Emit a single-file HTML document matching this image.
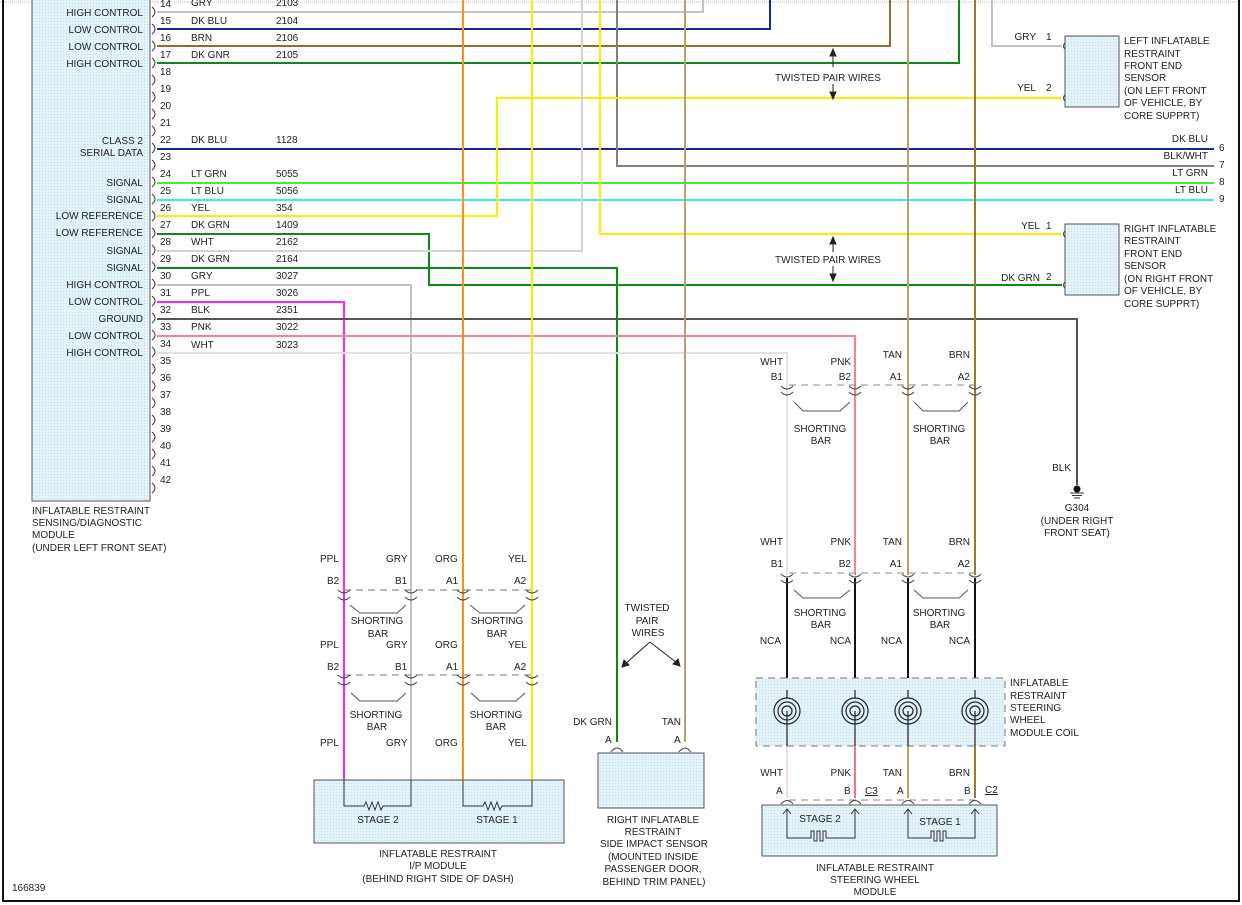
<!DOCTYPE html>
<html><head><meta charset="utf-8"><style>
html,body{margin:0;padding:0;background:#fff;}
svg{display:block;}
text{font-family:"Liberation Sans",sans-serif;font-size:10px;fill:#222;}
.r{text-anchor:end}.m{text-anchor:middle}
</style></head><body>
<svg width="1242" height="905" viewBox="0 0 1242 905" xmlns="http://www.w3.org/2000/svg">
<defs>
<pattern id="dots" width="3" height="3" patternUnits="userSpaceOnUse"><rect width="3" height="3" fill="#e4f2fa"/><rect width="1" height="1" fill="#c8dbe8"/></pattern>
</defs>
<rect width="1242" height="905" fill="#fff"/>
<!-- frame -->
<line x1="0" y1="2" x2="1239" y2="2" stroke="#bbb" stroke-dasharray="1,1"/>
<line x1="3" y1="0" x2="3" y2="901" stroke="#111" stroke-width="2"/>
<line x1="1239" y1="0" x2="1239" y2="901" stroke="#111" stroke-width="2"/>
<line x1="2" y1="901" x2="1240" y2="901" stroke="#111" stroke-width="2"/>
<text x="12" y="891">166839</text>

<!-- left module -->
<rect x="32" y="-2" width="118" height="503" fill="url(#dots)" stroke="#555"/>
<text x="32" y="514">INFLATABLE RESTRAINT</text>
<text x="32" y="526">SENSING/DIAGNOSTIC</text>
<text x="32" y="538">MODULE</text>
<text x="32" y="551">(UNDER LEFT FRONT SEAT)</text>
<g class="r">
<text class="r" x="143" y="16">HIGH CONTROL</text>
<text class="r" x="143" y="33">LOW CONTROL</text>
<text class="r" x="143" y="50">LOW CONTROL</text>
<text class="r" x="143" y="67">HIGH CONTROL</text>
<text class="r" x="143" y="144">CLASS 2</text>
<text class="r" x="143" y="156">SERIAL DATA</text>
<text class="r" x="143" y="186">SIGNAL</text>
<text class="r" x="143" y="203">SIGNAL</text>
<text class="r" x="143" y="219">LOW REFERENCE</text>
<text class="r" x="143" y="236">LOW REFERENCE</text>
<text class="r" x="143" y="254">SIGNAL</text>
<text class="r" x="143" y="271">SIGNAL</text>
<text class="r" x="143" y="288">HIGH CONTROL</text>
<text class="r" x="143" y="305">LOW CONTROL</text>
<text class="r" x="143" y="322">GROUND</text>
<text class="r" x="143" y="339">LOW CONTROL</text>
<text class="r" x="143" y="356">HIGH CONTROL</text>
</g>
<!-- connector brackets -->
<g fill="none" stroke="#333" stroke-width="1">
<path d="M152,7 Q158,12 152,17 M152,24 Q158,29 152,34 M152,41 Q158,46 152,51 M152,58 Q158,63 152,68 M152,75 Q158,80 152,85 M152,92 Q158,97 152,102 M152,109 Q158,114 152,119 M152,126 Q158,131 152,136 M152,143 Q158,148 152,153 M152,160 Q158,165 152,170 M152,177 Q158,182 152,187 M152,194 Q158,199 152,204 M152,211 Q158,216 152,221 M152,228 Q158,233 152,238 M152,245 Q158,250 152,255 M152,262 Q158,267 152,272 M152,279 Q158,284 152,289 M152,296 Q158,301 152,306 M152,313 Q158,318 152,323 M152,330 Q158,335 152,340 M152,347 Q158,352 152,357 M152,364 Q158,369 152,374 M152,381 Q158,386 152,391 M152,398 Q158,403 152,408 M152,415 Q158,420 152,425 M152,432 Q158,437 152,442 M152,449 Q158,454 152,459 M152,466 Q158,471 152,476 M152,483 Q158,488 152,493"/>
</g>
<g>
<text x="160" y="7">14</text><text x="160" y="24">15</text><text x="160" y="41">16</text><text x="160" y="58">17</text>
<text x="160" y="75">18</text><text x="160" y="92">19</text><text x="160" y="109">20</text><text x="160" y="126">21</text>
<text x="160" y="143">22</text><text x="160" y="160">23</text><text x="160" y="177">24</text><text x="160" y="194">25</text>
<text x="160" y="211">26</text><text x="160" y="228">27</text><text x="160" y="245">28</text><text x="160" y="262">29</text>
<text x="160" y="279">30</text><text x="160" y="296">31</text><text x="160" y="313">32</text><text x="160" y="330">33</text>
<text x="160" y="347">34</text><text x="160" y="364">35</text><text x="160" y="381">36</text><text x="160" y="398">37</text>
<text x="160" y="415">38</text><text x="160" y="432">39</text><text x="160" y="449">40</text><text x="160" y="466">41</text>
<text x="160" y="483">42</text>
<text x="191" y="6">GRY</text><text x="276" y="6">2103</text>
<text x="191" y="24">DK BLU</text><text x="276" y="24">2104</text>
<text x="191" y="41">BRN</text><text x="276" y="41">2106</text>
<text x="191" y="58">DK GNR</text><text x="276" y="58">2105</text>
<text x="191" y="143">DK BLU</text><text x="276" y="143">1128</text>
<text x="191" y="177">LT GRN</text><text x="276" y="177">5055</text>
<text x="191" y="194">LT BLU</text><text x="276" y="194">5056</text>
<text x="191" y="211">YEL</text><text x="276" y="211">354</text>
<text x="191" y="228">DK GRN</text><text x="276" y="228">1409</text>
<text x="191" y="245">WHT</text><text x="276" y="245">2162</text>
<text x="191" y="262">DK GRN</text><text x="276" y="262">2164</text>
<text x="191" y="279">GRY</text><text x="276" y="279">3027</text>
<text x="191" y="296">PPL</text><text x="276" y="296">3026</text>
<text x="191" y="313">BLK</text><text x="276" y="313">2351</text>
<text x="191" y="330">PNK</text><text x="276" y="330">3022</text>
<text x="191" y="348">WHT</text><text x="276" y="348">3023</text>
</g>

<!-- wires -->
<g fill="none" stroke-width="2">
<path d="M157,12 H703 V0" stroke="#c4c0c8"/>
<path d="M157,29 H770 V0" stroke="#1a2a8c"/>
<path d="M157,46 H890 V0" stroke="#9a6a1e"/>
<path d="M157,63 H959 V0" stroke="#0e8a12"/>
<path d="M157,149 H1214" stroke="#1a2a8c"/>
<path d="M617,0 V166 H1214" stroke="#808080"/>
<path d="M157,183 H1214" stroke="#3cf03c"/>
<path d="M157,200 H1214" stroke="#30f0f0"/>
<path d="M157,216 H497 V98 H1062" stroke="#f5f000"/>
<path d="M992,0 V46 H1062" stroke="#c4c4c4"/>
<path d="M600,0 V234 H1062" stroke="#f5f000"/>
<path d="M157,234 H429 V285 H1062" stroke="#0e8a12"/>
<path d="M157,251 H582 V0" stroke="#d8d0d8"/>
<path d="M157,268 H617 V742" stroke="#0e8a12"/>
<path d="M157,285 H411 V806" stroke="#c0c0c0"/>
<path d="M157,302 H344 V806" stroke="#ff22ff"/>
<path d="M157,319 H1077 V485" stroke="#555"/>
<path d="M157,336 H855 V575" stroke="#ff7f8f"/>
<path d="M157,353 H787 V575" stroke="#e6dde6"/>
<path d="M463,0 V806" stroke="#ff8c22"/>
<path d="M532,0 V806" stroke="#f5f000"/>
<path d="M685,0 V742" stroke="#bca06a"/>
<path d="M908,0 V575" stroke="#bca06a"/>
<path d="M975,0 V575" stroke="#9a7a2a"/>
<path d="M787,578 V690 M855,578 V690 M908,578 V690 M975,578 V690" stroke="#111"/>
<path d="M787,746 V798" stroke="#ecdcdc"/>
<path d="M855,746 V798" stroke="#ff6f85"/>
<path d="M908,746 V798" stroke="#bca06a"/>
<path d="M975,746 V798" stroke="#9a7a2a"/>
</g>

<!-- right labels -->
<text class="r" x="1208" y="142">DK BLU</text><text x="1219" y="151">6</text>
<text class="r" x="1208" y="159">BLK/WHT</text><text x="1219" y="168">7</text>
<text class="r" x="1208" y="176">LT GRN</text><text x="1219" y="185">8</text>
<text class="r" x="1208" y="193">LT BLU</text><text x="1219" y="202">9</text>

<!-- front sensors -->
<g fill="none" stroke="#444"><path d="M1067,41 Q1060,46 1067,51 M1067,93 Q1060,98 1067,103 M1067,229 Q1060,234 1067,239 M1067,280 Q1060,285 1067,290"/></g>
<rect x="1065" y="36" width="54" height="71" fill="url(#dots)" stroke="#555"/>
<rect x="1065" y="224" width="54" height="71" fill="url(#dots)" stroke="#555"/>
<text class="r" x="1036" y="40">GRY</text><text x="1046" y="40">1</text>
<text class="r" x="1036" y="91">YEL</text><text x="1046" y="91">2</text>
<text class="r" x="1040" y="229">YEL</text><text x="1046" y="229">1</text>
<text class="r" x="1040" y="281">DK GRN</text><text x="1046" y="280">2</text>
<text x="1124" y="44">LEFT INFLATABLE</text><text x="1124" y="57">RESTRAINT</text><text x="1124" y="69">FRONT END</text><text x="1124" y="81">SENSOR</text><text x="1124" y="94">(ON LEFT FRONT</text><text x="1124" y="106">OF VEHICLE, BY</text><text x="1124" y="119">CORE SUPPRT)</text>
<text x="1124" y="232">RIGHT INFLATABLE</text><text x="1124" y="244">RESTRAINT</text><text x="1124" y="257">FRONT END</text><text x="1124" y="269">SENSOR</text><text x="1124" y="282">(ON RIGHT FRONT</text><text x="1124" y="294">OF VEHICLE, BY</text><text x="1124" y="307">CORE SUPPRT)</text>

<!-- twisted pair arrows -->
<g stroke="#222" fill="#222">
<line x1="833" y1="52" x2="833" y2="67"/><path d="M830,56 L833,49 L836,56Z"/>
<line x1="833" y1="84" x2="833" y2="96"/><path d="M830,92 L833,99 L836,92Z"/>
<line x1="833" y1="240" x2="833" y2="252"/><path d="M830,244 L833,237 L836,244Z"/>
<line x1="833" y1="266" x2="833" y2="278"/><path d="M830,274 L833,281 L836,274Z"/>
</g>
<text class="m" x="828" y="81">TWISTED PAIR WIRES</text>
<text class="m" x="828" y="263">TWISTED PAIR WIRES</text>

<!-- ground -->
<text class="r" x="1071" y="471">BLK</text>
<circle cx="1077" cy="489" r="3.5" fill="#111"/>
<path d="M1070,493 H1084 M1072,495.5 H1082 M1074,498 H1080" stroke="#333"/>
<text class="m" x="1077" y="511">G304</text>
<text class="m" x="1077" y="524">(UNDER RIGHT</text>
<text class="m" x="1077" y="536">FRONT SEAT)</text>

<!-- IP module connectors -->
<g fill="none" stroke="#444">
<path d="M344,590 H532 M344,675 H532" stroke="#777" stroke-dasharray="7,5"/>
<path d="M338,590 Q344,596 350,590 M338,597 Q344,603 350,597 M405,590 Q411,596 417,590 M405,597 Q411,603 417,597 M457,590 Q463,596 469,590 M457,597 Q463,603 469,597 M526,590 Q532,596 538,590 M526,597 Q532,603 538,597"/>
<path d="M338,675 Q344,681 350,675 M338,682 Q344,688 350,682 M405,675 Q411,681 417,675 M405,682 Q411,688 417,682 M457,675 Q463,681 469,675 M457,682 Q463,688 469,682 M526,675 Q532,681 538,675 M526,682 Q532,688 538,682"/>
<path d="M350,605 L360,613 H397 L406,605 M470,605 L480,613 H516 L525,605" stroke="#555"/>
<path d="M351,693 L360,701 H397 L406,693 M471,693 L480,701 H516 L525,693" stroke="#555"/>
</g>
<g>
<text x="320" y="562">PPL</text><text x="386" y="562">GRY</text><text x="435" y="562">ORG</text><text x="508" y="562">YEL</text>
<text x="327" y="584">B2</text><text x="395" y="584">B1</text><text x="446" y="584">A1</text><text x="514" y="584">A2</text>
<text class="m" x="377" y="624">SHORTING</text><text class="m" x="378" y="637">BAR</text>
<text class="m" x="497" y="624">SHORTING</text><text class="m" x="497" y="637">BAR</text>
<text x="320" y="648">PPL</text><text x="386" y="648">GRY</text><text x="435" y="648">ORG</text><text x="508" y="648">YEL</text>
<text x="327" y="670">B2</text><text x="395" y="670">B1</text><text x="446" y="670">A1</text><text x="514" y="670">A2</text>
<text class="m" x="376" y="718">SHORTING</text><text class="m" x="377" y="730">BAR</text>
<text class="m" x="496" y="718">SHORTING</text><text class="m" x="496" y="730">BAR</text>
<text x="320" y="746">PPL</text><text x="386" y="746">GRY</text><text x="435" y="746">ORG</text><text x="508" y="746">YEL</text>
</g>
<rect x="314" y="780" width="250" height="63" fill="url(#dots)" stroke="#555"/>
<g fill="none" stroke="#333">
<path d="M344,780 V806 H364 l2,-4 l3,8 l3,-8 l3,8 l3,-8 l3,8 l2,-4 H411 V780"/>
<path d="M463,780 V806 H483 l2,-4 l3,8 l3,-8 l3,8 l3,-8 l3,8 l2,-4 H532 V780"/>
</g>
<path d="M344,780 V806 M411,780 V806" stroke="none"/>
<text class="m" x="378" y="823">STAGE 2</text>
<text class="m" x="497" y="823">STAGE 1</text>
<text class="m" x="438" y="857">INFLATABLE RESTRAINT</text>
<text class="m" x="438" y="869">I/P MODULE</text>
<text class="m" x="438" y="882">(BEHIND RIGHT SIDE OF DASH)</text>

<!-- side impact sensor -->
<text class="m" x="647" y="611">TWISTED</text>
<text class="m" x="647" y="624">PAIR</text>
<text class="m" x="648" y="636">WIRES</text>
<g stroke="#222" fill="#222">
<line x1="650" y1="642" x2="625" y2="664"/><path d="M622,667 L624,660 L629,665Z"/>
<line x1="650" y1="642" x2="677" y2="663"/><path d="M680,666 L673,664 L678,659Z"/>
</g>
<text class="r" x="612" y="725">DK GRN</text><text class="r" x="681" y="725">TAN</text>
<text x="605" y="743">A</text><text x="674" y="743">A</text>
<g fill="none" stroke="#444"><path d="M611,752 Q617,744 623,752 M679,752 Q685,744 691,752"/></g>
<rect x="598" y="753" width="106" height="55" fill="url(#dots)" stroke="#555"/>
<text class="m" x="653" y="823">RIGHT INFLATABLE</text>
<text class="m" x="653" y="835">RESTRAINT</text>
<text class="m" x="654" y="847">SIDE IMPACT SENSOR</text>
<text class="m" x="653" y="860">(MOUNTED INSIDE</text>
<text class="m" x="653" y="872">PASSENGER DOOR,</text>
<text class="m" x="654" y="885">BEHIND TRIM PANEL)</text>

<!-- steering wheel connectors -->
<path d="M789,385 H975 M789,573 H975" stroke="#888" stroke-dasharray="7,5" fill="none"/>
<g fill="none" stroke="#444">
<path d="M781,386 Q787,392 793,386 M781,392 Q787,398 793,392 M849,386 Q855,392 861,386 M849,392 Q855,398 861,392 M902,386 Q908,392 914,386 M902,392 Q908,398 914,392 M969,386 Q975,392 981,386 M969,392 Q975,398 981,392"/>
<path d="M781,574 Q787,580 793,574 M781,580 Q787,586 793,580 M849,574 Q855,580 861,574 M849,580 Q855,586 861,580 M902,574 Q908,580 914,574 M902,580 Q908,586 914,580 M969,574 Q975,580 981,574 M969,580 Q975,586 981,580"/>
<path d="M794,402 L803,411 H840 L850,402 M914,402 L923,411 H959 L968,402" stroke="#555"/>
<path d="M794,590 L803,598 H840 L850,590 M914,590 L923,598 H959 L968,590" stroke="#555"/>
</g>
<g>
<text class="r" x="783" y="365">WHT</text><text class="r" x="851" y="365">PNK</text><text class="r" x="902" y="358">TAN</text><text class="r" x="970" y="358">BRN</text>
<text class="r" x="783" y="380">B1</text><text class="r" x="851" y="380">B2</text><text class="r" x="902" y="380">A1</text><text class="r" x="970" y="380">A2</text>
<text class="m" x="820" y="432">SHORTING</text><text class="m" x="821" y="444">BAR</text>
<text class="m" x="939" y="432">SHORTING</text><text class="m" x="940" y="444">BAR</text>
<text class="r" x="783" y="545">WHT</text><text class="r" x="851" y="545">PNK</text><text class="r" x="902" y="545">TAN</text><text class="r" x="970" y="545">BRN</text>
<text class="r" x="783" y="567">B1</text><text class="r" x="851" y="567">B2</text><text class="r" x="902" y="567">A1</text><text class="r" x="970" y="567">A2</text>
<text class="m" x="820" y="616">SHORTING</text><text class="m" x="821" y="628">BAR</text>
<text class="m" x="939" y="616">SHORTING</text><text class="m" x="940" y="628">BAR</text>
<text class="r" x="781" y="644">NCA</text><text class="r" x="851" y="644">NCA</text><text class="r" x="902" y="644">NCA</text><text class="r" x="970" y="644">NCA</text>
</g>
<!-- coil -->
<rect x="756" y="678" width="249" height="68" fill="url(#dots)" stroke="#777" stroke-dasharray="7,5"/>
<g fill="none" stroke="#222" stroke-width="1.2">
<g transform="translate(787,711)"><path d="M0,-21 V-13"/><circle r="13"/><circle r="9"/><circle r="5"/><path d="M0,0 V35"/></g>
<g transform="translate(855,711)"><path d="M0,-21 V-13"/><circle r="13"/><circle r="9"/><circle r="5"/><path d="M0,0 V35"/></g>
<g transform="translate(908,711)"><path d="M0,-21 V-13"/><circle r="13"/><circle r="9"/><circle r="5"/><path d="M0,0 V35"/></g>
<g transform="translate(975,711)"><path d="M0,-21 V-13"/><circle r="13"/><circle r="9"/><circle r="5"/><path d="M0,0 V35"/></g>
</g>
<text x="1010" y="686">INFLATABLE</text><text x="1010" y="699">RESTRAINT</text><text x="1010" y="711">STEERING</text><text x="1010" y="723">WHEEL</text><text x="1010" y="736">MODULE COIL</text>
<text class="r" x="783" y="776">WHT</text><text class="r" x="851" y="776">PNK</text><text class="r" x="902" y="776">TAN</text><text class="r" x="970" y="776">BRN</text>
<text x="776" y="794">A</text><text x="844" y="794">B</text><text x="897" y="794">A</text><text x="964" y="794">B</text>
<text x="865" y="794" text-decoration="underline">C3</text><text x="985" y="793" text-decoration="underline">C2</text>
<path d="M789,800 H975" stroke="#888" stroke-dasharray="7,5" fill="none"/>
<g fill="none" stroke="#444"><path d="M781,804 Q787,797 793,804 M849,804 Q855,797 861,804 M902,804 Q908,797 914,804 M969,804 Q975,797 981,804"/></g>
<rect x="762" y="805" width="235" height="51" fill="url(#dots)" stroke="#555"/>
<g fill="none" stroke="#333">
<path d="M787,809 V838 H811 V831 H814 V841 H817 V831 H820 V841 H823 V831 H826 V838 H855 V809"/>
<path d="M783,814 L787,809 L791,814 M851,814 L855,809 L859,814"/>
<path d="M908,809 V838 H931 V831 H934 V841 H937 V831 H940 V841 H943 V831 H946 V838 H975 V809"/>
<path d="M904,814 L908,809 L912,814 M971,814 L975,809 L979,814"/>
</g>
<text class="m" x="820" y="822">STAGE 2</text>
<text class="m" x="940" y="825">STAGE 1</text>
<text class="m" x="875" y="871">INFLATABLE RESTRAINT</text>
<text class="m" x="875" y="883">STEERING WHEEL</text>
<text class="m" x="875" y="895">MODULE</text>
</svg>
</body></html>
